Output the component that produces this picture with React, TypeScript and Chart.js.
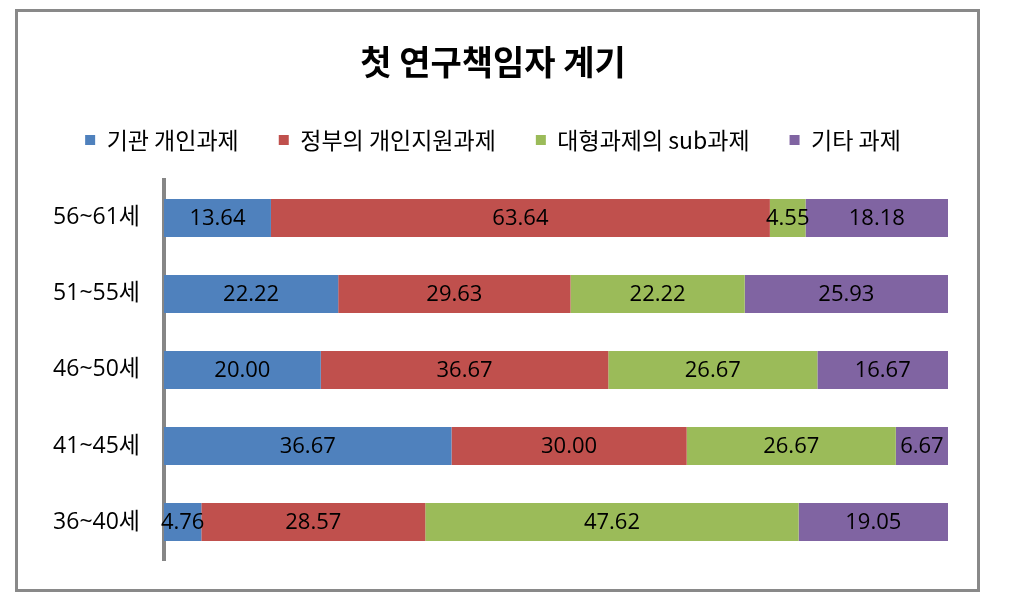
import React, { useEffect, useRef } from "react";
import { Chart, registerables } from "chart.js";

Chart.register(...registerables);

const categories = ["56~61세", "51~55세", "46~50세", "41~45세", "36~40세"];
const seriesNames = ["기관 개인과제", "정부의 개인지원과제", "대형과제의 sub과제", "기타 과제"];
const institutionValues = [13.64, 22.22, 20.0, 36.67, 4.76];
const governmentValues = [63.64, 29.63, 36.67, 30.0, 28.57];
const largeSubValues = [4.55, 22.22, 26.67, 26.67, 47.62];
const otherValues = [18.18, 25.93, 16.67, 6.67, 19.05];
const seriesColors = ["#4F81BD", "#C0504D", "#9BBB59", "#8064A2"];
const titleText = "첫 연구책임자 계기";

const NUM_FONT = "'Open Sans', 'Noto Sans CJK KR', sans-serif";
const KR_FONT = "'Noto Sans CJK KR', sans-serif";

const legendGapPlugin = {
  id: "legendGap",
  beforeInit(chart: any) {
    const legend = chart.legend;
    if (!legend) return;
    const origFit = legend.fit;
    legend.fit = function () {
      origFit.call(this);
      this.height += 18.5;
    };
  },
};

const valueLabelPlugin = {
  id: "valueLabels",
  afterDraw(chart: any) {
    const ctx = chart.ctx;
    ctx.save();
    ctx.font = `22px ${NUM_FONT}`;
    ctx.fillStyle = "#000";
    ctx.textAlign = "center";
    ctx.textBaseline = "middle";
    chart.data.datasets.forEach((ds: any, di: number) => {
      const meta = chart.getDatasetMeta(di);
      meta.data.forEach((bar: any, i: number) => {
        const v = ds.data[i];
        const cx = (bar.x + bar.base) / 2;
        ctx.fillText(Number(v).toFixed(2), cx, bar.y + 1);
      });
    });
    ctx.restore();
  },
};

export default function App() {
  const canvasRef = useRef<HTMLCanvasElement | null>(null);

  useEffect(() => {
    if (!canvasRef.current) return;
    const allValues = [institutionValues, governmentValues, largeSubValues, otherValues];
    const chart = new Chart(canvasRef.current, {
      type: "bar",
      data: {
        labels: categories,
        datasets: seriesNames.map((name, i) => ({
          label: name,
          data: allValues[i],
          backgroundColor: seriesColors[i],
          borderWidth: 0,
          categoryPercentage: 1,
          barPercentage: 0.5,
        })),
      },
      options: {
        indexAxis: "y",
        responsive: false,
        animation: false,
        layout: { padding: { left: 38, right: 63, top: 10, bottom: 43 } },
        scales: {
          x: { display: false, stacked: true, min: 0, max: 100 },
          y: {
            stacked: true,
            z: 1,
            grid: { display: false, drawTicks: false },
            border: { display: true, color: "#868686", width: 4 },
            ticks: { color: "#000", font: { family: NUM_FONT, size: 23 }, padding: 24 },
            afterFit(scale: any) {
              scale.width = 126;
            },
          },
        },
        plugins: {
          title: {
            display: true,
            text: titleText,
            color: "#000",
            font: { family: KR_FONT, size: 34, weight: "bold" },
            padding: { top: 31.6, bottom: 6 },
          },
          legend: {
            display: true,
            labels: {
              color: "#000",
              boxWidth: 10,
              boxHeight: 10,
              padding: 40,
              font: { family: KR_FONT, size: 23 },
            },
          },
          tooltip: { enabled: false },
        },
      },
      plugins: [legendGapPlugin, valueLabelPlugin],
    } as any);
    return () => chart.destroy();
  }, []);

  return (
    <div style={{ position: "absolute", left: 0, top: 0, width: 1011, height: 603, background: "#fff" }}>
      <canvas ref={canvasRef} width={1011} height={603} style={{ position: "absolute", left: 0, top: 0 }} />
      <div
        style={{
          position: "absolute",
          left: 15,
          top: 9,
          width: 965,
          height: 583,
          boxSizing: "border-box",
          border: "3px solid #898989",
          pointerEvents: "none",
        }}
      />
    </div>
  );
}
